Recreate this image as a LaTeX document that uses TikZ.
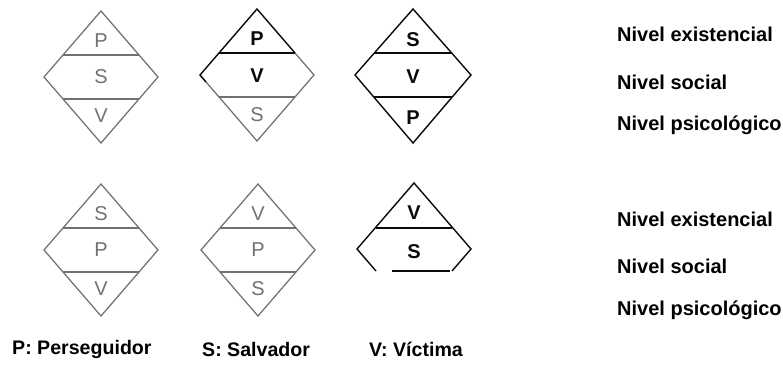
\documentclass[tikz,border=0pt]{standalone}
\usepackage{fontspec}
\setmainfont{Liberation Sans}
\usepackage{tikz}
\usetikzlibrary{positioning}
\definecolor{rolegray}{RGB}{112,112,118}
\definecolor{roleink}{RGB}{10,10,10}

\begin{document}
\begin{tikzpicture}[x=1pt, y=-1pt,
    edge/.style={draw=#1, line width=1.25pt, line join=miter},
    role/.style={font=\fontsize{20}{20}\selectfont\bfseries, text=#1, inner sep=0pt},
    faded/.style={font=\fontsize{20}{20}\selectfont, text=rolegray, inner sep=0pt},
    level/.style={font=\fontsize{20}{21}\selectfont\bfseries, anchor=west, inner sep=0pt},
    legend/.style={font=\fontsize{19.6}{21}\selectfont\bfseries, anchor=west, inner sep=0pt}
]
\useasboundingbox (0,0) rectangle (783,371);

% Gray diamonds
\foreach \n/\cx/\cy/\a/\b/\c in {1/101/77/P/S/V, 4/101/250/S/P/V, 5/258/250/V/P/S} {
    \draw[edge=rolegray] (\cx,\cy-66) -- (\cx+57,\cy) -- (\cx,\cy+66) -- (\cx-57,\cy) -- cycle;
    \draw[edge=rolegray] (\cx-38,\cy-22) -- (\cx+38,\cy-22);
    \draw[edge=rolegray] (\cx-38,\cy+22) -- (\cx+38,\cy+22);
    \node[faded] (d\n-top) at (\cx,\cy-36) {\a};
    \node[faded] (d\n-mid) at (\cx,\cy) {\b};
    \node[faded] (d\n-bot) at (\cx,\cy+39) {\c};
}

% Half black diamond
\draw[edge=rolegray] (295,53) -- (314,75) -- (257,141) -- (200,75);
\draw[edge=rolegray] (219,97) -- (295,97);
\draw[edge=roleink, line width=1.4pt] (295,53) -- (257,9) -- (200,75) -- (206,82);
\draw[edge=roleink, line width=1.4pt] (219,53) -- (295,53);
\node[role=roleink] (d2-top) at (257,39) {P};
\node[role=roleink] (d2-mid) at (257,76) {V};
\node[faded] (d2-bot) at (257,115) {S};

% Black diamond
\draw[edge=roleink, line width=1.4pt] (413,9) -- (471,75) -- (413,143) -- (355,75) -- cycle;
\draw[edge=roleink, line width=1.4pt] (374,53) -- (452,53);
\draw[edge=roleink, line width=1.4pt] (374,97) -- (452,97);
\node[role=roleink] (d3-top) at (413,40) {S};
\node[role=roleink] (d3-mid) at (413,77) {V};
\node[role=roleink] (d3-bot) at (413,118) {P};

% Cut diamond
\draw[edge=roleink, line width=1.4pt] (376,271) -- (357,249) -- (414,183) -- (471,249) -- (452,271);
\draw[edge=roleink, line width=1.4pt] (376,228) -- (452,228);
\draw[edge=roleink, line width=1.4pt] (392,271) -- (450,271);
\node[role=roleink] (d6-top) at (414,213) {V};
\node[role=roleink] (d6-mid) at (414,252) {S};

% Levels
\node[level] (ex1) at (617,34) {Nivel existencial};
\node[level] (so1) at (617,82) {Nivel social};
\node[level] (ps1) at (617,125) {Nivel psicológico};
\node[level] (ex2) at (617,219) {Nivel existencial};
\node[level] (so2) at (617,266) {Nivel social};
\node[level] (ps2) at (617,310) {Nivel psicológico};

% Legend
\node[legend] (perseguidor) at (12,349) {P: Perseguidor};
\node[legend] (salvador) at (202,349) {S: Salvador};
\node[legend] (victima) at (369,349) {V: Víctima};

\end{tikzpicture}
\end{document}
